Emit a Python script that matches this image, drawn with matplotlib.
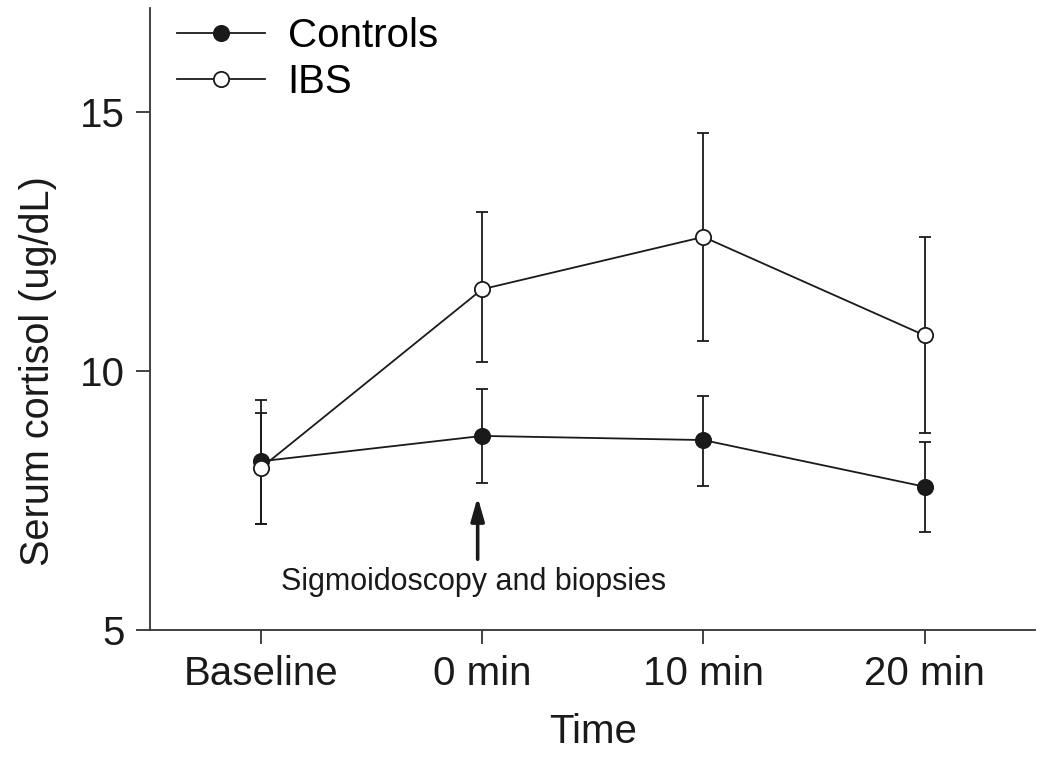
import numpy as np
import matplotlib.pyplot as plt
from matplotlib.lines import Line2D

plt.rcParams['font.family'] = ['Liberation Sans', 'DejaVu Sans']

time_labels = ['Baseline', '0 min', '10 min', '20 min']

controls_mean = [8.26, 8.75, 8.67, 7.77]
controls_upper = [9.44, 9.65, 9.52, 8.63]
controls_lower = [7.05, 7.84, 7.78, 6.89]

ibs_mean = [8.13, 11.58, 12.59, 10.69]
ibs_upper = [9.19, 13.07, 14.59, 12.59]
ibs_lower = [7.05, 10.17, 10.58, 8.80]


def err_from(mean, lower, upper):
    mean = np.array(mean)
    return [mean - np.array(lower), np.array(upper) - mean]


x = np.arange(len(time_labels))
ink = '#1a1a1a'

fig = plt.figure(figsize=(10.5, 7.63), dpi=100)
ax = fig.add_axes([0.143, 0.174, 0.843, 0.815])

ax.errorbar(x, ibs_mean, yerr=err_from(ibs_mean, ibs_lower, ibs_upper),
            color=ink, lw=1.3, elinewidth=1.3, capsize=4.5, capthick=1.3,
            marker='o', ms=11, mfc='white', mec=ink, mew=1.3, zorder=3)
ax.errorbar(x, controls_mean, yerr=err_from(controls_mean, controls_lower, controls_upper),
            color=ink, lw=1.3, elinewidth=1.3, capsize=4.5, capthick=1.3,
            marker='o', ms=11, mfc=ink, mec=ink, mew=1.3, zorder=2)

# arrow marking the procedure
ax.annotate('', xy=(0.98, 7.57), xytext=(0.98, 6.37),
            arrowprops=dict(arrowstyle='-|>,head_length=1.4,head_width=0.4',
                            color=ink, lw=2.6, shrinkA=0, shrinkB=0))
ax.text(0.96, 5.93, 'Sigmoidoscopy and biopsies', ha='center', va='center',
        fontsize=22, color=ink)

ax.set_xlim(-0.5, 3.5)
ax.set_ylim(5, 17)
ax.set_xticks(x)
ax.set_xticklabels(time_labels)
ax.set_yticks([5, 10, 15])

for side in ['top', 'right']:
    ax.spines[side].set_visible(False)
for side in ['left', 'bottom']:
    ax.spines[side].set_color('#333333')
    ax.spines[side].set_linewidth(1.3)

ax.tick_params(axis='both', labelsize=29, colors='#333333', labelcolor=ink,
               width=1.3, length=10)
ax.tick_params(axis='x', pad=8)
ax.tick_params(axis='y', pad=8)

ax.set_xlabel('Time', fontsize=29, color=ink, labelpad=14)
ax.set_ylabel('Serum cortisol (ug/dL)', fontsize=28.5, color=ink)
ax.yaxis.set_label_coords(-0.105, 0.416)

handles = [
    Line2D([], [], color=ink, lw=1.3, marker='o', ms=11, mfc=ink, mec=ink, mew=1.3),
    Line2D([], [], color=ink, lw=1.3, marker='o', ms=11, mfc='white', mec=ink, mew=1.3),
]
ax.legend(handles, ['Controls', 'IBS'], loc='upper left', frameon=False,
          fontsize=29, handlelength=2.2, handletextpad=0.55, labelspacing=0.2,
          borderaxespad=0.0, bbox_to_anchor=(0.012, 1.012))

fig.savefig('out.png', dpi=100)
